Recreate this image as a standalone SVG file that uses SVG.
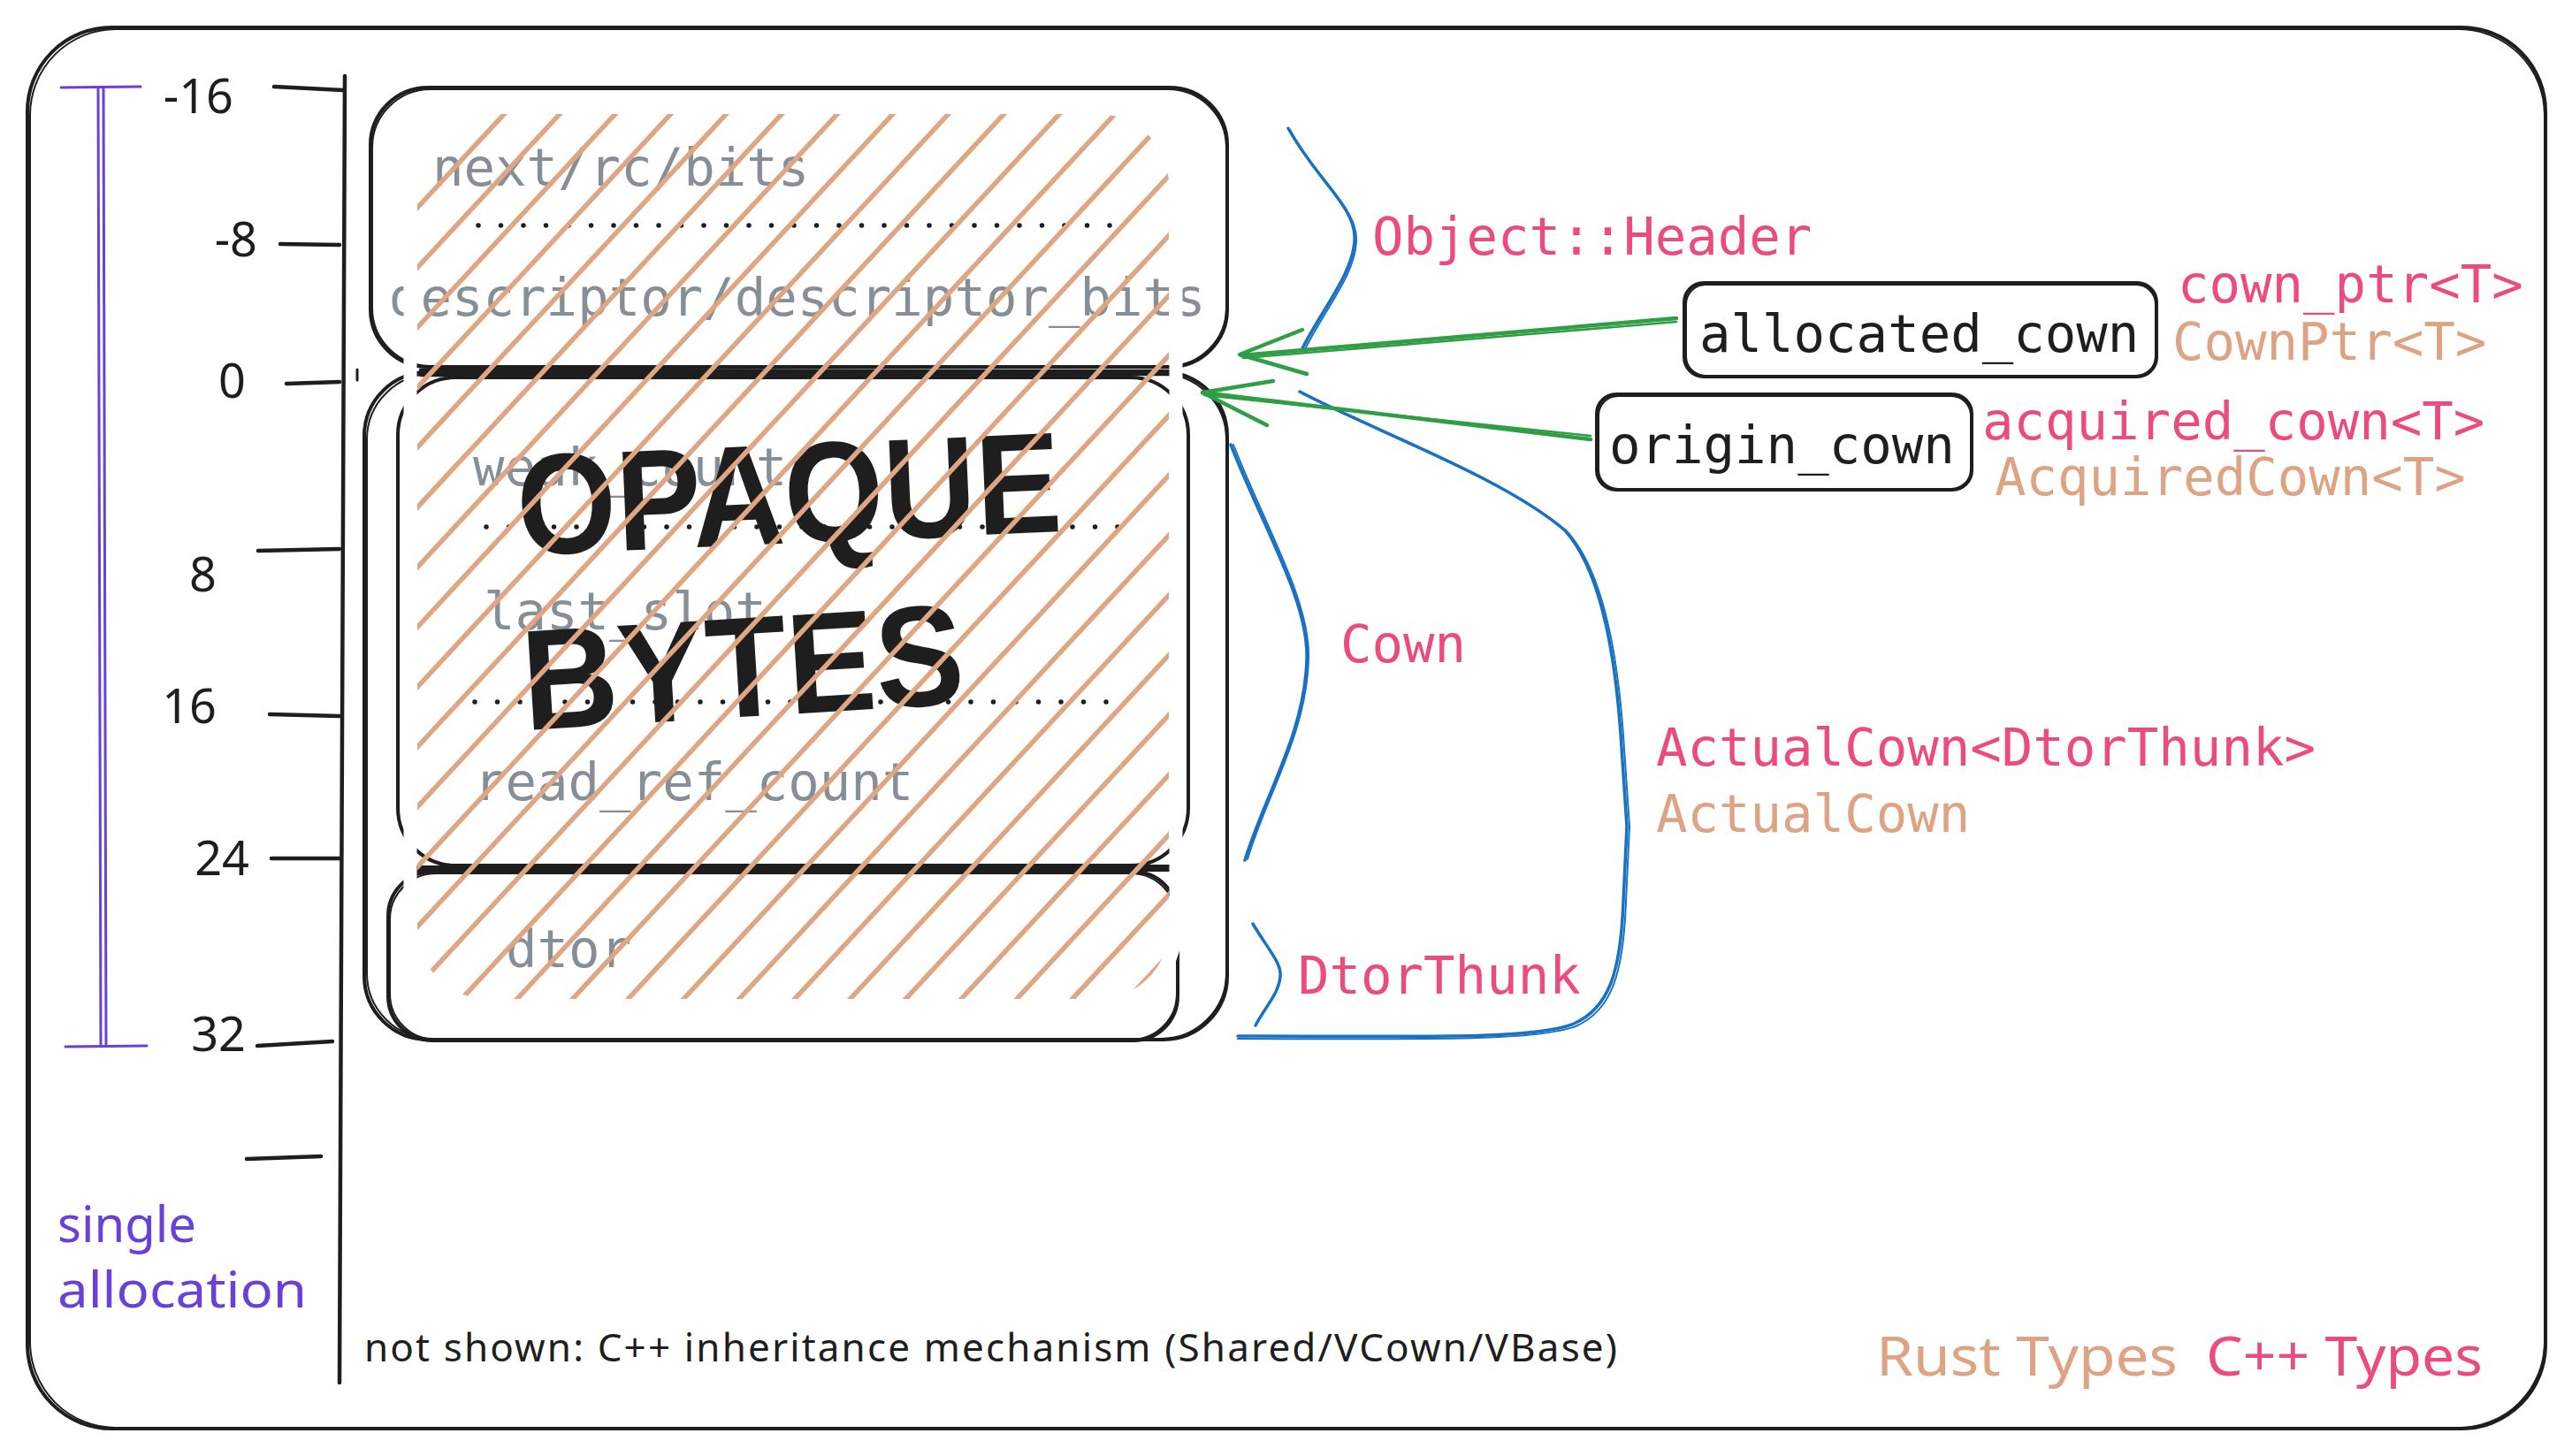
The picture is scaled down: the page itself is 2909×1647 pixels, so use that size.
<svg xmlns="http://www.w3.org/2000/svg" width="2909" height="1647" viewBox="0 0 2909 1647">
  <style>
    .mono { font-family: "DejaVu Sans Mono", "Liberation Mono", monospace; font-size: 59px; }
    .field { fill: #868e96; }
    .pink { fill: #ec4c7d; }
    .tan { fill: #dda382; }
    .ink { fill: #1e1e1e; }
    .hand { font-family: "Noto Sans", "Liberation Sans", sans-serif; }
    .box { fill: none; stroke: #1e1e1e; stroke-width: 4; }
    .box2 { fill: none; stroke: #1e1e1e; stroke-width: 2; }
    .tick { stroke: #1e1e1e; stroke-width: 4.5; stroke-linecap: round; fill: none; }
    .brace { fill: none; stroke: #1971c2; stroke-width: 3.5; stroke-linecap: round; stroke-linejoin: round; }
    .arrow { fill: none; stroke: #2f9e44; stroke-width: 4.5; stroke-linecap: round; stroke-linejoin: round; }
    .dots { stroke: #1e1e1e; stroke-width: 5.5; stroke-linecap: round; stroke-dasharray: 0 25.5; fill: none; }
    .purple { stroke: #6741d9; stroke-width: 3; fill: none; stroke-linecap: round; }
  </style>
  <defs>
    <clipPath id="hatchClip">
      <rect x="472" y="129" width="850" height="1001" rx="80"/>
    </clipPath>
  </defs>
  <rect width="2909" height="1647" fill="#ffffff"/>

  <g id="frame">
    <rect class="box" x="31" y="31" width="2848" height="1585" rx="95"/>
    <rect class="box2" x="34" y="33" width="2844" height="1582" rx="97"/>
  </g>

  <g id="axis">
    <path class="tick" d="M390,86 L384,1564"/>
    <path class="tick" d="M310,98 L388,102"/>
    <path class="tick" d="M317,276 L384,277"/>
    <path class="tick" d="M324,434 L384,432"/>
    <path class="tick" d="M292,623 L384,621"/>
    <path class="tick" d="M305,808 L384,810"/>
    <path class="tick" d="M307,971 L384,971"/>
    <path class="tick" d="M291,1183 L376,1178"/>
    <path class="tick" d="M279,1311 L363,1308"/>
    <path class="tick" d="M404,418 L404,430" style="stroke-width:3"/>
    <g class="hand ink" font-size="54" text-anchor="end">
      <text x="264" y="128">-16</text>
      <text x="291" y="290">-8</text>
      <text x="278" y="450">0</text>
      <text x="245" y="669">8</text>
      <text x="245" y="818">16</text>
      <text x="282" y="990">24</text>
      <text x="278" y="1189">32</text>
    </g>
  </g>

  <g id="single-allocation">
    <path class="purple" d="M69,99 L159,98"/>
    <path class="purple" d="M111,100 L114,1183 M117,100 L120,1183"/>
    <path class="purple" d="M74,1184 L166,1183"/>
    <g class="hand" fill="#6741d9" font-size="56">
      <text x="65" y="1405" textLength="157" lengthAdjust="spacingAndGlyphs">single</text>
      <text x="65" y="1479" textLength="282" lengthAdjust="spacingAndGlyphs">allocation</text>
    </g>
  </g>

  <g id="object-header">
    <rect class="box" x="419" y="99" width="969" height="316" rx="65"/>
    <rect class="box2" x="421" y="101" width="966" height="313" rx="66"/>
    <text class="mono field" x="489" y="210">next/rc/bits</text>
    <path class="dots" d="M541,255 L1265,255"/>
    <text class="mono field" x="440" y="357">descriptor/descriptor_bits</text>
  </g>

  <g id="cown">
    <rect class="box" x="412" y="421" width="976" height="755" rx="72"/>
    <rect class="box2" x="415" y="423" width="972" height="752" rx="74"/>
    <rect class="box" x="450" y="427" width="894" height="552" rx="65"/>
    <text class="mono field" x="535" y="549">weak_count</text>
    <path class="dots" d="M550,596 L1280,596"/>
    <text class="mono field" x="547" y="712">last_slot</text>
    <path class="dots" d="M537,794 L1260,794"/>
    <text class="mono field" x="536" y="905">read_ref_count</text>
  </g>

  <g id="dtor-thunk">
    <rect class="box" x="439" y="986" width="893" height="191" rx="50"/>
    <rect class="box2" x="441" y="988" width="890" height="188" rx="52"/>
    <text class="mono field" x="572" y="1094">dtor</text>
  </g>

  <g id="dividers">
    <path class="tick" d="M476,419 L1322,420 M476,424 L1322,423" style="stroke-width:4.5"/>
    <path class="tick" d="M472,981 L1322,980 M472,985 L1322,984" style="stroke-width:4"/>
  </g>

  <g id="opaque-bytes">
    <rect x="464" y="121" width="866" height="1017" rx="88" fill="none" stroke="#ffffff" stroke-width="15"/>
    <g class="ink" font-family="Liberation Sans, Arimo, sans-serif" font-weight="bold" font-size="162">
      <text x="587" y="628" textLength="616" lengthAdjust="spacingAndGlyphs" transform="rotate(-2.5 587 628)">OPAQUE</text>
      <text x="594" y="826" textLength="500" lengthAdjust="spacingAndGlyphs" transform="rotate(-3.5 594 826)">BYTES</text>
    </g>
    <path clip-path="url(#hatchClip)" fill="none" stroke="#dea683" stroke-width="5.5" d="M535.2,99 l-983,1061 M598,99 l-983,1061 M660.8,99 l-983,1061 M723.6,99 l-983,1061 M786.4,99 l-983,1061 M849.2,99 l-983,1061 M912,99 l-983,1061 M974.8,99 l-983,1061 M1037.6,99 l-983,1061 M1100.4,99 l-983,1061 M1163.2,99 l-983,1061 M1226,99 l-983,1061 M1288.8,99 l-983,1061 M1351.6,99 l-983,1061 M1414.4,99 l-983,1061 M1477.2,99 l-983,1061 M1540,99 l-983,1061 M1602.8,99 l-983,1061 M1665.6,99 l-983,1061 M1728.4,99 l-983,1061 M1791.2,99 l-983,1061 M1854,99 l-983,1061 M1916.8,99 l-983,1061 M1979.6,99 l-983,1061 M2042.4,99 l-983,1061 M2105.2,99 l-983,1061 M2168,99 l-983,1061 M2230.8,99 l-983,1061"/>
  </g>

  <g id="allocated-cown">
    <rect class="box" x="1905" y="320" width="534" height="106" rx="22"/>
    <rect class="box2" x="1907" y="322" width="531" height="103" rx="22"/>
    <text class="mono ink" x="1922" y="398">allocated_cown</text>
    <text class="mono pink" x="2463" y="342">cown_ptr&lt;T&gt;</text>
    <text class="mono tan" x="2457" y="407">CownPtr&lt;T&gt;</text>
  </g>

  <g id="origin-cown">
    <rect class="box" x="1806" y="446" width="424" height="108" rx="22"/>
    <rect class="box2" x="1808" y="448" width="421" height="105" rx="22"/>
    <text class="mono ink" x="1820" y="524">origin_cown</text>
    <text class="mono pink" x="2242" y="497">acquired_cown&lt;T&gt;</text>
    <text class="mono tan" x="2256" y="560">AcquiredCown&lt;T&gt;</text>
  </g>

  <g id="type-labels">
    <text class="mono pink" x="1552" y="288">Object::Header</text>
    <text class="mono pink" x="1516" y="749">Cown</text>
    <text class="mono pink" x="1873" y="866">ActualCown&lt;DtorThunk&gt;</text>
    <text class="mono tan" x="1873" y="941">ActualCown</text>
    <text class="mono pink" x="1468" y="1124">DtorThunk</text>
  </g>

  <g id="connectors">
    <path class="brace" d="M1457,145 C1490,205 1535,235 1532,272 C1530,310 1495,350 1472,396"/>
    <path class="brace" d="M1459,147 C1492,207 1537,237 1534,274 C1532,312 1497,352 1475,397" style="stroke-width:2"/>
    <path class="brace" d="M1392,503 C1430,600 1480,680 1478,745 C1476,830 1430,900 1408,973"/>
    <path class="brace" d="M1395,503 C1433,600 1482,680 1480,745 C1478,830 1432,900 1411,972" style="stroke-width:2"/>
    <path class="brace" d="M1417,1045 C1435,1075 1450,1090 1448,1105 C1446,1125 1430,1140 1420,1160"/>
    <path class="brace" d="M1470,443 C1560,490 1700,540 1770,600 C1815,650 1828,760 1833,830 L1840,935 L1836,1020 C1833,1100 1820,1140 1780,1158 C1740,1174 1650,1173 1400,1172"/>
    <path class="brace" d="M1473,445 C1563,492 1703,542 1773,602 C1818,652 1831,762 1836,832 L1843,935 L1839,1020 C1836,1102 1823,1143 1782,1161 C1742,1176 1650,1176 1400,1175" style="stroke-width:2"/>
    <path class="arrow" d="M1896,360 L1404,402"/>
    <path class="arrow" d="M1896,364 L1406,405" style="stroke-width:2.5"/>
    <path class="arrow" d="M1473,373 L1402,401 L1478,423"/>
    <path class="arrow" d="M1799,497 L1360,444"/>
    <path class="arrow" d="M1799,493 L1362,447" style="stroke-width:2.5"/>
    <path class="arrow" d="M1440,431 L1360,444 L1433,481"/>
  </g>

  <g id="notes">
    <text class="hand ink" x="412" y="1540" font-size="44" textLength="1417" lengthAdjust="spacing">not shown: C++ inheritance mechanism (Shared/VCown/VBase)</text>
    <text class="hand tan" x="2122" y="1556" font-size="62" textLength="341" lengthAdjust="spacingAndGlyphs">Rust Types</text>
    <text class="hand pink" x="2495" y="1556" font-size="62" textLength="313" lengthAdjust="spacingAndGlyphs">C++ Types</text>
  </g>
</svg>
